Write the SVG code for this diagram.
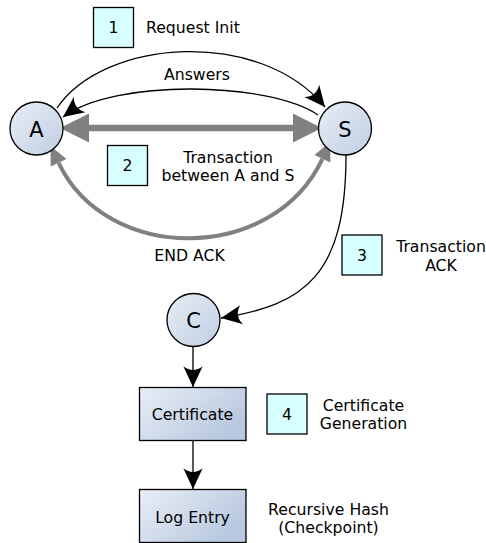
<svg xmlns="http://www.w3.org/2000/svg" width="486" height="543" viewBox="0 0 486 543">
  <defs>
    <linearGradient id="nodeFill" x1="0" y1="0" x2="1" y2="1">
      <stop offset="0" stop-color="#e8eef6"/>
      <stop offset="1" stop-color="#c0cee3"/>
    </linearGradient>
    <linearGradient id="boxFill" x1="0" y1="0" x2="1" y2="0.6">
      <stop offset="0" stop-color="#e9eef6"/>
      <stop offset="1" stop-color="#b8c8df"/>
    </linearGradient>
    <!-- concave black arrowhead, tip at the path end -->
    <marker id="blackHead" markerUnits="userSpaceOnUse" markerWidth="30" markerHeight="30" viewBox="-16 -8 18 16" refX="0" refY="0" orient="auto" overflow="visible">
      <path d="M0,0 L-12.5,-5.8 Q-8,0 -12.5,5.8 Z" fill="#000"/>
    </marker>
    <!-- large grey triangle, base at the path end -->
    <marker id="greyBig" markerUnits="userSpaceOnUse" markerWidth="30" markerHeight="30" viewBox="0 -13 26 26" refX="0" refY="0" orient="auto-start-reverse" overflow="visible">
      <path d="M0,-12.5 L25,0 L0,12.5 Z" fill="#808080"/>
    </marker>
    <!-- small grey triangle, base at the path end -->
    <marker id="greySmall" markerUnits="userSpaceOnUse" markerWidth="20" markerHeight="20" viewBox="0 -8 16 16" refX="0" refY="0" orient="auto-start-reverse" overflow="visible">
      <path d="M0,-7 L15,0 L0,7 Z" fill="#808080"/>
    </marker>
  </defs>
  <style>
    text { font-family: "DejaVu Sans", "Liberation Sans", sans-serif; font-size: 15.7px; fill: #000; }
    .mid { text-anchor: middle; }
    .big { font-size: 21px; }
    .node { fill: url(#nodeFill); stroke: #000; stroke-width: 1.3; }
    .box { fill: url(#boxFill); stroke: #000; stroke-width: 1.3; }
    .step { fill: #d7ffff; stroke: #000; stroke-width: 1.3; }
    .thin { fill: none; stroke: #000; stroke-width: 1.3; marker-end: url(#blackHead); }
    .grey { fill: none; stroke: #808080; }
  </style>

  <rect width="486" height="543" fill="#fff"/>

  <!-- connectors -->
  <g id="connectors">
    <path class="thin" d="M57,108 C105,38 260,28 325,107"/>
    <path class="thin" d="M318,115 C270,82 115,78 63,117"/>
    <path class="grey" stroke-width="6.5" d="M89,128 L293,128" marker-start="url(#greyBig)" marker-end="url(#greyBig)"/>
    <path class="grey" stroke-width="4" d="M58.6,162.8 C107,264 273,264 322.4,158.8" marker-start="url(#greySmall)" marker-end="url(#greySmall)"/>
    <path class="thin" d="M346,155 C346,275 305,305 221,318"/>
    <path class="thin" d="M193,347 L193,387"/>
    <path class="thin" d="M193,441 L193,489"/>
  </g>

  <!-- nodes -->
  <g id="nodeA">
    <circle class="node" cx="36.5" cy="128.5" r="26.5"/>
    <text class="mid big" x="36.5" y="136.5">A</text>
  </g>
  <g id="nodeS">
    <circle class="node" cx="345" cy="128.5" r="26.5"/>
    <text class="mid big" x="345" y="136.5">S</text>
  </g>
  <g id="nodeC">
    <circle class="node" cx="193.5" cy="320" r="26.5"/>
    <text class="mid big" x="193.5" y="328">C</text>
  </g>
  <g id="certificate">
    <rect class="box" x="139.5" y="387.5" width="106.5" height="53"/>
    <text class="mid" x="192.5" y="420">Certificate</text>
  </g>
  <g id="logEntry">
    <rect class="box" x="139.5" y="489.5" width="106.5" height="53"/>
    <text class="mid" x="192.5" y="522.5">Log Entry</text>
  </g>

  <!-- numbered steps -->
  <g id="step1">
    <rect class="step" x="93.5" y="7.5" width="40" height="40"/>
    <text class="mid" x="113.5" y="32.5">1</text>
    <text x="146" y="32.5">Request Init</text>
  </g>
  <g id="step2">
    <rect class="step" x="107.5" y="145.5" width="40" height="40"/>
    <text class="mid" x="127.5" y="171">2</text>
    <text class="mid" x="228" y="163">Transaction</text>
    <text class="mid" x="228" y="181">between A and S</text>
  </g>
  <g id="step3">
    <rect class="step" x="342" y="235" width="40" height="40"/>
    <text class="mid" x="362" y="260.5">3</text>
    <text class="mid" x="441" y="252">Transaction</text>
    <text class="mid" x="441" y="270.5">ACK</text>
  </g>
  <g id="step4">
    <rect class="step" x="267" y="394" width="40" height="40"/>
    <text class="mid" x="287" y="420">4</text>
    <text class="mid" x="363.5" y="410.5">Certificate</text>
    <text class="mid" x="363.5" y="429">Generation</text>
  </g>

  <!-- connector labels -->
  <text class="mid" x="197" y="79.5">Answers</text>
  <text class="mid" x="189.5" y="260.5">END ACK</text>
  <text class="mid" x="328.5" y="514.5">Recursive Hash</text>
  <text class="mid" x="328.5" y="532.5">(Checkpoint)</text>
</svg>
